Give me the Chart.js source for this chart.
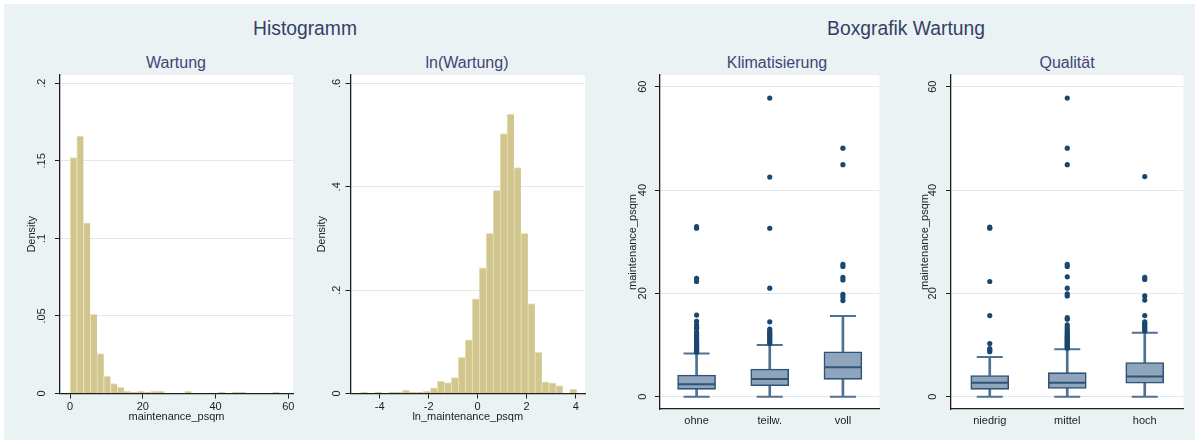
<!DOCTYPE html>
<html><head><meta charset="utf-8">
<script src="https://cdn.jsdelivr.net/npm/chart.js@4/dist/chart.umd.min.js"></script>
<style>
html,body{margin:0;padding:0;background:#fff;width:1204px;height:444px;overflow:hidden;font-family:"Liberation Sans",Arial,sans-serif;}
#bg{position:absolute;left:4px;top:4px;width:1191px;height:436px;background:#eaf2f3;}
.t{position:absolute;white-space:nowrap;transform:translate(-50%,-50%);line-height:1;}
.main{font-size:19.3px;color:#353f66;}
.sub{font-size:16px;color:#434476;}
canvas{position:absolute;top:0;}
</style></head><body>
<div id="bg"></div>
<div class="t main" style="left:305px;top:29.3px">Histogramm</div>
<div class="t main" style="left:906px;top:29.3px">Boxgrafik Wartung</div>
<div class="t sub" style="left:176px;top:62.5px">Wartung</div>
<div class="t sub" style="left:467px;top:62.5px">ln(Wartung)</div>
<div class="t sub" style="left:777px;top:62.5px">Klimatisierung</div>
<div class="t sub" style="left:1067px;top:62.5px">Qualität</div>
<canvas id="c1" width="300" height="444" style="left:0px;width:300px;height:444px"></canvas>
<canvas id="c2" width="300" height="444" style="left:300px;width:300px;height:444px"></canvas>
<canvas id="c3" width="300" height="444" style="left:600px;width:300px;height:444px"></canvas>
<canvas id="c4" width="304" height="444" style="left:900px;width:304px;height:444px"></canvas>
<script>
// ---------- data ----------
const hist1Title = 'maintenance_psqm';
const hist1Start = 0;
const hist1BinWidth = 1.855;
const hist1Density = [0.152,0.166,0.110,0.051,0.0258,0.0112,0.0064,0.0039,0.0015,0.0009,0.0015,0.0009,0.0015,0.0015,0,0,0,0.0015,0,0,0,0,0.0009,0,0.0009,0.0009,0,0,0,0,0.0009];
const hist1XTicks = [0,20,40,60];
const hist1YTicks = [0,0.05,0.1,0.15,0.2];
const hist1YLabels = ['0','.05','.1','.15','.2'];

const hist2Title = 'ln_maintenance_psqm';
const hist2Start = -4.776;
const hist2BinWidth = 0.2844;
const hist2Density = [0.0026,0,0.0026,0,0.0026,0.0026,0.0065,0.0026,0.0026,0.0045,0.011,0.024,0.021,0.031,0.070,0.104,0.183,0.243,0.310,0.393,0.503,0.541,0.437,0.310,0.174,0.080,0.0226,0.0206,0.0155,0,0.0084];
const hist2XTicks = [-4,-2,0,2,4];
const hist2YTicks = [0,0.2,0.4,0.6];
const hist2YLabels = ['0','.2','.4','.6'];

const boxYTicks = [0,20,40,60];
const boxYLabels = ['0','20','40','60'];
const boxYTitle = 'maintenance_psqm';

const klimaCats = ['ohne','teilw.','voll'];
const klimaMin = [0,0,0];
const klimaQ1 = [1.42,2.13,3.35];
const klimaMed = [2.42,3.42,5.7];
const klimaQ3 = [4.19,5.35,8.7];
const klimaMax = [8.35,10.0,15.6];
const klimaOutOhne = [8.6,8.8,9.0,9.2,9.4,9.6,9.8,10.0,10.2,10.4,10.6,10.8,11.0,11.2,11.5,11.8,12.1,12.5,13.2,13.5,13.9,14.6,15.8,22.3,22.9,32.6,32.9];
const klimaOutTeilw = [10.3,10.6,10.9,11.2,11.5,11.8,12.1,12.4,12.7,13.1,14.5,21.0,32.6,42.5,57.8];
const klimaOutVoll = [18.6,19.3,19.8,22.6,23.1,25.2,25.6,44.9,48.1];

const qualCats = ['niedrig','mittel','hoch'];
const qualMin = [0,0,0];
const qualQ1 = [1.42,1.6,2.6];
const qualMed = [2.7,2.7,3.9];
const qualQ3 = [4.1,4.65,6.6];
const qualMax = [7.7,9.2,12.4];
const qualOutNiedrig = [8.7,9.0,9.3,10.3,15.7,22.3,32.6,32.8];
const qualOutMittel = [9.4,9.6,9.8,10.0,10.2,10.4,10.6,10.8,11.0,11.2,11.4,11.6,11.8,12.1,12.4,12.7,13.0,13.4,13.9,15.0,15.3,19.5,19.9,21.0,23.2,25.2,25.6,44.9,48.1,57.8];
const qualOutHoch = [12.7,13.0,13.3,13.6,13.9,14.2,14.5,15.7,18.7,19.5,22.7,23.1,42.6];

// ---------- style ----------
const FONT = '"Liberation Sans", Arial, sans-serif';
const TXT = '#1e1e1e';
const AXIS = '#1e1e1e';
const GRID = '#dfe8eb';
const BAR_FILL = '#d1c78e';
const BAR_EDGE = '#e9e3c0';
const BOX_FILL = '#8ea5bb';
const BOX_EDGE = '#2f5479';
const WHISK = '#4f7192';
const OUT = '#1a476f';

const plotBg = {id:'plotBg', beforeDraw(chart){
  const {ctx, chartArea:a} = chart;
  ctx.save(); ctx.fillStyle = '#ffffff';
  ctx.fillRect(a.left, a.top, a.right - a.left, a.bottom - a.top);
  ctx.restore();
}};
function rotLabels(labels, xPos){
  return {id:'rotY', afterDraw(chart){
    const s = chart.scales.y, ctx = chart.ctx;
    ctx.save();
    ctx.fillStyle = TXT; ctx.font = '11px ' + FONT;
    ctx.textAlign = 'center'; ctx.textBaseline = 'middle';
    s.ticks.forEach((t, i) => {
      const y = s.getPixelForValue(t.value);
      ctx.save(); ctx.translate(xPos, y); ctx.rotate(-Math.PI / 2);
      ctx.fillText(labels[i], 0, 0); ctx.restore();
    });
    ctx.restore();
  }};
}
function yScale(min, max, ticks, width, title, titlePadTop){
  return {
    min, max,
    afterBuildTicks: s => { s.ticks = ticks.map(v => ({value: v})); },
    afterFit: s => { s.width = width; },
    grid: {color: GRID, lineWidth: 1, drawTicks: true, tickLength: 5, tickColor: AXIS, tickWidth: 1},
    border: {display: true, color: AXIS, width: 1.3},
    ticks: {display: false},
    title: {display: true, text: title, color: TXT, font: {family: FONT, size: 11}, padding: {top: titlePadTop, bottom: 0}}
  };
}

function histChart(id, start, bw, dens, xTicks, xMin, xMax, yTicks, yLabels, yMax, xTitle, pad, yW, tpt, labX){
  const data = dens.map((d, i) => ({x: start + (i + 0.5) * bw, y: d}));
  new Chart(document.getElementById(id), {
    type: 'bar',
    data: {datasets: [{data, backgroundColor: BAR_FILL, borderColor: BAR_EDGE,
      borderWidth: {top: 1, left: 1, right: 0, bottom: 0}, borderSkipped: false,
      barPercentage: 1, categoryPercentage: 1}]},
    options: {
      responsive: false, animation: false, events: [],
      layout: {padding: pad},
      plugins: {legend: {display: false}, tooltip: {enabled: false}, title: {display: false}},
      scales: {
        x: {type: 'linear', min: xMin, max: xMax, offset: false,
          afterBuildTicks: s => { s.ticks = xTicks.map(v => ({value: v})); },
          afterFit: s => { s.height = 30; },
          grid: {offset: false, drawOnChartArea: false, drawTicks: true, tickLength: 5, tickColor: AXIS, color: AXIS},
          border: {display: true, color: AXIS, width: 1.3},
          ticks: {padding: 2, color: TXT, font: {family: FONT, size: 11}, maxRotation: 0, minRotation: 0, autoSkip: false, callback: v => String(v)},
          title: {display: true, text: xTitle, color: TXT, font: {family: FONT, size: 11}, padding: {top: 0, bottom: 0}}},
        y: yScale(0, yMax, yTicks, yW, 'Density', tpt)
      }
    },
    plugins: [plotBg, rotLabels(yLabels, labX)]
  });
}

function boxChart(id, cats, lo, q1, med, q3, hi, outs, pad, yW, tpt, labX){
  const outPts = [];
  outs.forEach((arr, i) => arr.forEach(v => outPts.push({x: cats[i], y: v})));
  const caps = [];
  cats.forEach((c, i) => { caps.push({x: c, y: hi[i]}); caps.push({x: c, y: lo[i]}); });
  new Chart(document.getElementById(id), {
    type: 'bar',
    data: {labels: cats, datasets: [
      {type: 'bar', data: cats.map((c, i) => [q3[i], hi[i]]), backgroundColor: WHISK, borderWidth: 0, barThickness: 2, grouped: false, order: 6},
      {type: 'bar', data: cats.map((c, i) => [lo[i], q1[i]]), backgroundColor: WHISK, borderWidth: 0, barThickness: 2, grouped: false, order: 6},
      {type: 'bar', data: cats.map((c, i) => [q1[i], q3[i]]), backgroundColor: BOX_FILL, borderColor: BOX_EDGE, borderWidth: 1.6, borderSkipped: false, barThickness: 38, grouped: false, order: 5},
      {type: 'line', showLine: false, data: cats.map((c, i) => ({x: c, y: med[i]})), pointStyle: 'line', pointRadius: 18.5, pointBorderWidth: 2, pointBorderColor: BOX_EDGE, order: 4},
      {type: 'line', showLine: false, data: caps, pointStyle: 'line', pointRadius: 13, pointBorderWidth: 2, pointBorderColor: WHISK, order: 4},
      {type: 'line', showLine: false, data: outPts, pointStyle: 'circle', pointRadius: 2.6, pointBackgroundColor: OUT, pointBorderColor: OUT, pointBorderWidth: 0, order: 1}
    ]},
    options: {
      responsive: false, animation: false, events: [],
      layout: {padding: pad},
      plugins: {legend: {display: false}, tooltip: {enabled: false}, title: {display: false}},
      scales: {
        x: {type: 'category', offset: true,
          afterFit: s => { s.height = 25; },
          grid: {offset: true, drawOnChartArea: false, drawTicks: false},
          border: {display: true, color: AXIS, width: 1.3},
          ticks: {padding: 5, color: TXT, font: {family: FONT, size: 11}, maxRotation: 0, minRotation: 0, autoSkip: false}},
        y: yScale(-2.38, 62.26, boxYTicks, yW, boxYTitle, tpt)
      }
    },
    plugins: [plotBg, rotLabels(boxYLabels, labX)]
  });
}

histChart('c1', hist1Start, hist1BinWidth, hist1Density, hist1XTicks, -2.75, 61.3, hist1YTicks, hist1YLabels, 0.2053, hist1Title,
  {left: 20, top: 75, right: 7, bottom: 20.5}, 40, 5.1, 41.7);
histChart('c2', hist2Start, hist2BinWidth, hist2Density, hist2XTicks, -5.19, 4.38, hist2YTicks, hist2YLabels, 0.6164, hist2Title,
  {left: 10, top: 75, right: 15, bottom: 20.5}, 40.5, 5.1, 37.3);
boxChart('c3', klimaCats, klimaMin, klimaQ1, klimaMed, klimaQ3, klimaMax, [klimaOutOhne, klimaOutTeilw, klimaOutVoll],
  {left: 20, top: 75, right: 5, bottom: 10}, 40, 6.7, 42.7);
boxChart('c4', qualCats, qualMin, qualQ1, qualMed, qualQ3, qualMax, [qualOutNiedrig, qualOutMittel, qualOutHoch],
  {left: 10, top: 75, right: 18, bottom: 10}, 41, 8.4, 33.3);
</script>
</body></html>
